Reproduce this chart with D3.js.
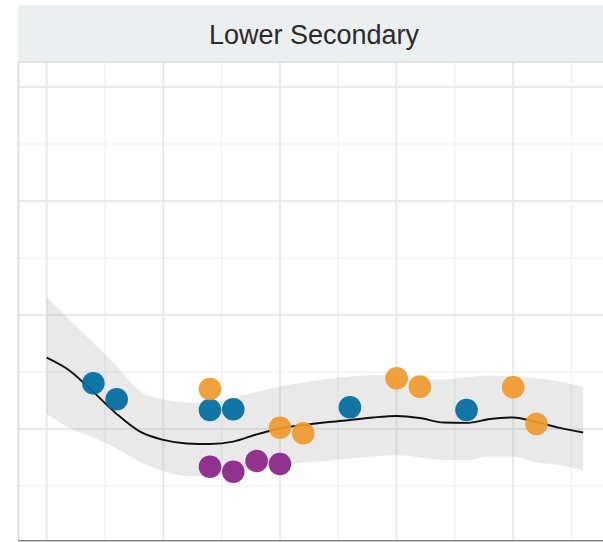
<!DOCTYPE html>
<html>
<head>
<meta charset="utf-8">
<script src="https://cdn.jsdelivr.net/npm/d3@7"></script>
<style>
  html, body { margin: 0; padding: 0; background: #ffffff; }
  svg { display: block; }
</style>
</head>
<body>
<div id="chart"></div>
<script>
// Facet title
const panelTitle = "Lower Secondary";

// Observed values by source
const blueYears = [2002, 2003, 2007, 2008, 2013, 2018];
const blueValues = [14.0, 12.6, 11.67, 11.73, 11.9, 11.67];

const orangeYears = [2007, 2010, 2011, 2015, 2016, 2020, 2021];
const orangeValues = [13.5, 10.1, 9.62, 14.45, 13.71, 13.66, 10.44];

const purpleYears = [2007, 2008, 2009, 2010];
const purpleValues = [6.69, 6.25, 7.19, 6.93];

// Smoothed trend with its confidence band
const fitYears = [2000, 2001, 2002, 2003, 2004, 2005, 2006, 2007, 2008, 2009, 2010, 2011,
                  2012, 2013, 2014, 2015, 2016, 2017, 2018, 2019, 2020, 2021, 2022, 2023];
const fitValues = [16.25, 15.09, 13.25, 11.32, 9.76, 9.04, 8.73, 8.68, 8.89, 9.52, 10.04, 10.35,
                   10.59, 10.79, 11.01, 11.14, 10.96, 10.57, 10.53, 10.88, 11.01, 10.61, 10.09, 9.69];
const fitUpper = [21.58, 19.56, 17.54, 15.53, 13.33, 12.59, 12.32, 12.32, 12.72, 13.25, 13.73, 14.08,
                  14.39, 14.61, 14.74, 14.61, 14.43, 14.34, 14.54, 14.69, 14.61, 14.43, 14.17, 13.68];
const fitLower = [11.32, 10.09, 9.25, 8.29, 7.11, 6.32, 5.88, 5.83, 6.27, 6.58, 6.84, 7.06,
                  7.19, 7.41, 7.59, 7.70, 7.50, 7.28, 7.28, 7.59, 7.57, 7.06, 6.84, 6.36];

// Grid breaks
const xMajorTicks = [2000, 2005, 2010, 2015, 2020];
const xMinorTicks = [2002.5, 2007.5, 2012.5, 2017.5, 2022.5];
const yMajorTicks = [10, 20, 30, 40];
const yMinorTicks = [5, 15, 25, 35];

const width = 603, height = 542;
const panel = { left: 18, right: 610, top: 62, bottom: 540 };
const strip = { top: 5, bottom: 61 };

const svg = d3.select("#chart").append("svg")
  .attr("width", width).attr("height", height)
  .attr("viewBox", `0 0 ${width} ${height}`);

const x = d3.scaleLinear().domain([1998.77, 2024.15]).range([panel.left, panel.right]);
const y = d3.scaleLinear().domain([0.26, 42.19]).range([panel.bottom, panel.top]);

svg.append("defs").append("clipPath").attr("id", "panel-clip")
  .append("rect")
  .attr("x", panel.left).attr("y", panel.top)
  .attr("width", panel.right - panel.left).attr("height", panel.bottom - panel.top);

// Strip with the facet label
svg.append("rect")
  .attr("x", panel.left).attr("y", strip.top)
  .attr("width", panel.right - panel.left).attr("height", strip.bottom - strip.top)
  .attr("fill", "#eceff0");

svg.append("text")
  .attr("x", (panel.left + panel.right) / 2)
  .attr("y", 44)
  .attr("text-anchor", "middle")
  .attr("font-family", "'Liberation Sans', Arial, Helvetica, sans-serif")
  .attr("font-size", 27)
  .attr("fill", "#2b2b2b")
  .text(panelTitle);

const plot = svg.append("g").attr("clip-path", "url(#panel-clip)");

// Minor grid
plot.append("g").selectAll("line").data(xMinorTicks).join("line")
  .attr("x1", d => x(d)).attr("x2", d => x(d))
  .attr("y1", panel.top).attr("y2", panel.bottom)
  .attr("stroke", "#f3f3f3").attr("stroke-width", 1.6);
plot.append("g").selectAll("line").data(yMinorTicks).join("line")
  .attr("x1", panel.left).attr("x2", panel.right)
  .attr("y1", d => y(d)).attr("y2", d => y(d))
  .attr("stroke", "#f3f3f3").attr("stroke-width", 1.6);

// Major grid
plot.append("g").selectAll("line").data(xMajorTicks).join("line")
  .attr("x1", d => x(d)).attr("x2", d => x(d))
  .attr("y1", panel.top).attr("y2", panel.bottom)
  .attr("stroke", "#e9e9e9").attr("stroke-width", 2);
plot.append("g").selectAll("line").data(yMajorTicks).join("line")
  .attr("x1", panel.left).attr("x2", panel.right)
  .attr("y1", d => y(d)).attr("y2", d => y(d))
  .attr("stroke", "#e9e9e9").attr("stroke-width", 2);

// Confidence band and trend line
const fit = fitYears.map((yr, i) => ({ yr, v: fitValues[i], lo: fitLower[i], hi: fitUpper[i] }));

plot.append("path")
  .datum(fit)
  .attr("d", d3.area().x(d => x(d.yr)).y0(d => y(d.lo)).y1(d => y(d.hi)).curve(d3.curveMonotoneX))
  .attr("fill", "#999999").attr("fill-opacity", 0.22);

plot.append("path")
  .datum(fit)
  .attr("d", d3.line().x(d => x(d.yr)).y(d => y(d.v)).curve(d3.curveMonotoneX))
  .attr("fill", "none").attr("stroke", "#111111").attr("stroke-width", 1.9);

// Observations
const groups = [
  { years: blueYears, values: blueValues, color: "#006d9f" },
  { years: purpleYears, values: purpleValues, color: "#8a2488" },
  { years: orangeYears, values: orangeValues, color: "#f0992f" }
];
groups.forEach(g => {
  plot.append("g").selectAll("circle")
    .data(g.years.map((yr, i) => ({ yr, v: g.values[i] })))
    .join("circle")
    .attr("cx", d => x(d.yr)).attr("cy", d => y(d.v))
    .attr("r", 11.3)
    .attr("fill", g.color).attr("fill-opacity", 0.93);
});

// Panel edges
svg.append("line")
  .attr("x1", panel.left).attr("x2", panel.right)
  .attr("y1", panel.top).attr("y2", panel.top)
  .attr("stroke", "#d9d9d9").attr("stroke-width", 1.6);
svg.append("line")
  .attr("x1", panel.left + 0.5).attr("x2", panel.left + 0.5)
  .attr("y1", panel.top).attr("y2", panel.bottom)
  .attr("stroke", "#e0e0e0").attr("stroke-width", 2);
svg.append("line")
  .attr("x1", panel.left).attr("x2", panel.right)
  .attr("y1", panel.bottom + 0.8).attr("y2", panel.bottom + 0.8)
  .attr("stroke", "#858585").attr("stroke-width", 1.6);
</script>
</body>
</html>
